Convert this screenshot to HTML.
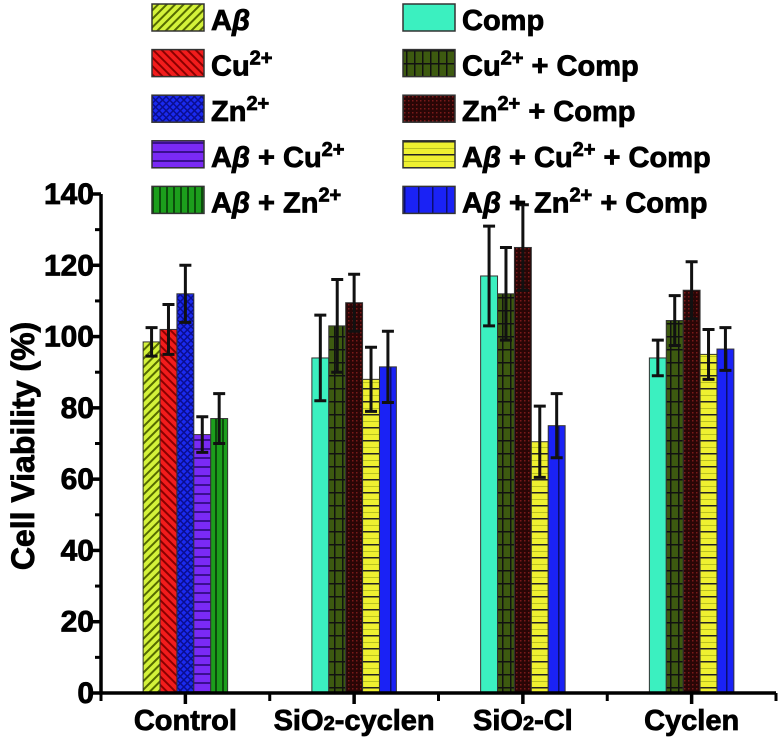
<!DOCTYPE html>
<html><head><meta charset="utf-8"><style>
body{margin:0;background:#fff}
svg text{font-family:"Liberation Sans",Arial,sans-serif;font-weight:bold;fill:#000;stroke:#000;stroke-width:0.8px}
</style></head><body>
<svg id="chart" width="781" height="747" xmlns="http://www.w3.org/2000/svg">
<defs>
<pattern id="p0" width="6" height="6" patternUnits="userSpaceOnUse" patternTransform="rotate(45)"><rect width="6" height="6" fill="#d4f23a"/><rect width="2" height="6" fill="#556b00"/></pattern>
<pattern id="p1" width="6" height="6" patternUnits="userSpaceOnUse" patternTransform="rotate(-45)"><rect width="6" height="6" fill="#f21c1c"/><rect width="2" height="6" fill="#8a0000"/></pattern>
<pattern id="p2" width="5" height="5" patternUnits="userSpaceOnUse" patternTransform="rotate(45)"><rect width="5" height="5" fill="#1a2af0"/><rect width="1.5" height="5" fill="#0a0e90"/><rect width="5" height="1.5" fill="#0a0e90"/></pattern>
<pattern id="p3" width="10" height="9" patternUnits="userSpaceOnUse"><rect width="10" height="9" fill="#7a2af5"/><rect y="7" width="10" height="2" fill="#3a0f90"/></pattern>
<pattern id="p4" width="7" height="10" patternUnits="userSpaceOnUse"><rect width="7" height="10" fill="#1c9e1c"/><rect x="5" width="2" height="10" fill="#0b4d0b"/></pattern>
<pattern id="p5" width="10" height="10" patternUnits="userSpaceOnUse"><rect width="10" height="10" fill="#3bf0c0"/></pattern>
<pattern id="p6" width="8" height="13" patternUnits="userSpaceOnUse"><rect width="8" height="13" fill="#3d5a10"/><rect x="6" width="1.5" height="13" fill="#111"/><rect y="11" width="8" height="1.5" fill="#111"/></pattern>
<pattern id="p7" width="4" height="4" patternUnits="userSpaceOnUse"><rect width="4" height="4" fill="#2a0606"/><rect width="1.5" height="1.5" fill="#7a1a1a"/></pattern>
<pattern id="p8" width="10" height="13" patternUnits="userSpaceOnUse"><rect width="10" height="13" fill="#eef030"/><rect y="11" width="10" height="1.5" fill="#222"/><rect y="5" width="10" height="1" fill="#b8c020"/></pattern>
<pattern id="p9" width="14" height="10" patternUnits="userSpaceOnUse"><rect width="14" height="10" fill="#1a22f5"/><rect x="12" width="1.5" height="10" fill="#0a0e70"/></pattern>
</defs>
<g id="plot"></g>
</svg>
<script>
const categories=["Control","SiO2-cyclen","SiO2-Cl","Cyclen"];
const controlValues=[98.5,102,112,72.5,77];
const controlErrors=[4,7,8,5,7];
const sio2CyclenValues=[94,103,109.5,88,91.5];
const sio2CyclenErrors=[12,13,8,9,10];
const sio2ClValues=[117,112,125,70.5,75];
const sio2ClErrors=[14,13,12,10,9];
const cyclenValues=[94,104.5,113,95,96.5];
const cyclenErrors=[5,7,8,7,6];
const yTicks=[0,20,40,60,80,100,120,140];
const seriesLabels=["Aβ","Cu²⁺","Zn²⁺","Aβ + Cu²⁺","Aβ + Zn²⁺","Comp","Cu²⁺ + Comp","Zn²⁺ + Comp","Aβ + Cu²⁺ + Comp","Aβ + Zn²⁺ + Comp"];

const NS="http://www.w3.org/2000/svg";
const g=document.getElementById('plot');
const X0=101,X1=776,Y0=693,Y1=194,YMAX=140;
const catW=(X1-X0)/categories.length;
const y=v=>Y0-(v/YMAX)*(Y0-Y1);
const xc=i=>X0+catW*(i+0.5);
const BW=16.9;
function el(t,a){const e=document.createElementNS(NS,t);for(const k in a)e.setAttribute(k,a[k]);g.appendChild(e);return e;}

const groups=[[controlValues,controlErrors,0],[sio2CyclenValues,sio2CyclenErrors,5],[sio2ClValues,sio2ClErrors,5],[cyclenValues,cyclenErrors,5]];
groups.forEach((gr,ci)=>{
  const [vals,errs,off]=gr;
  vals.forEach((v,j)=>{
    const x=xc(ci)-BW*2.5+BW*j;
    const r=el('rect',{x:x,y:y(v),width:BW,height:Y0-y(v),fill:`url(#p${off+j})`,stroke:'#333','stroke-width':1});
    
    
    const cx=x+BW/2,hi=y(v+errs[j]),lo=y(v-errs[j]);
    const e=el('path',{d:`M${cx} ${hi}V${lo}M${cx-6} ${hi}H${cx+6}M${cx-6} ${lo}H${cx+6}`,stroke:'#111','stroke-width':3,fill:'none'});
    
    
  });
});
const ax=el('path',{d:`M${X0} ${Y1}V${Y0}H${X1}`,stroke:'#000','stroke-width':3.5,fill:'none'});


yTicks.forEach(t=>{
  el('line',{x1:X0-10,x2:X0,y1:y(t),y2:y(t),stroke:'#000','stroke-width':3.5});
  if(t<140)el('line',{x1:X0-6,x2:X0,y1:y(t+10),y2:y(t+10),stroke:'#000','stroke-width':3});
  const tx=el('text',{x:X0-7,y:y(t)+10,'text-anchor':'end','font-size':30});
  tx.textContent=t;
  
  
});
for(let i=0;i<=categories.length;i++){
  el('line',{x1:X0+catW*i,x2:X0+catW*i,y1:Y0,y2:Y0+8,stroke:'#000','stroke-width':3});
}
categories.forEach((c,i)=>{
  el('line',{x1:xc(i),x2:xc(i),y1:Y0,y2:Y0+11,stroke:'#000','stroke-width':3.5});
  const tx=el('text',{x:xc(i),y:730,'text-anchor':'middle','font-size':29});
  if(c.startsWith('SiO2')){tx.innerHTML='SiO<tspan font-size="20">2</tspan>'+c.slice(4);}else tx.textContent=c;
  
  
});
const yt=el('text',{x:0,y:0,transform:'translate(34,446) rotate(-90)','text-anchor':'middle','font-size':32});
yt.textContent='Cell Viability (%)';


seriesLabels.forEach((l,k)=>{
  const col=Math.floor(k/5),row=k%5;
  const sx=col?403:152, sy=4+row*45.6;
  const r=el('rect',{x:sx,y:sy,width:52,height:27,fill:`url(#p${k})`,stroke:'#333','stroke-width':1.5});
  
  
  const tx=el('text',{x:sx+59,y:sy+26,'font-size':29});
  tx.innerHTML=l.replace(/β/g,'<tspan font-style="italic">β</tspan>').replace(/²⁺/g,'<tspan dy="-11" font-size="20">2+</tspan><tspan dy="11"> </tspan>');
  
  
});
</script>
</body></html>
